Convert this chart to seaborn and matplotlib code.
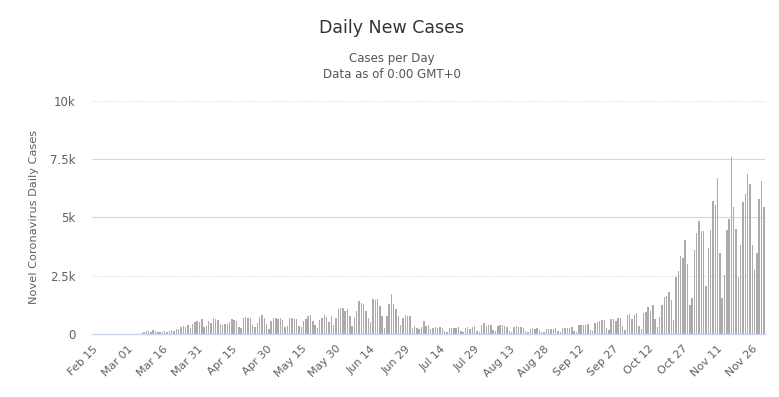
import pandas as pd
import matplotlib.pyplot as plt
import seaborn as sns
import numpy as np

# Valeurs (cas par jour), du 15 fév. au 1er déc. 2020
feb_mar = [0, 0, 0, 0, 0, 0, 0, 0, 0, 0, 1, 0, 2, 1, 3, 5, 7, 4, 10, 12,
           15, 20, 60, 140, 110, 90, 150, 120, 60, 100,
           100, 130, 90, 140, 160, 120, 230, 210, 300, 340,
           280, 360, 240, 430, 500, 560, 520, 620, 300, 350]
apr_may = [560, 460, 680, 650, 600, 430, 380, 440, 420, 530,
           620, 600, 560, 300, 250, 700, 720, 680, 700, 370,
           300, 450, 720, 790, 700, 430, 220, 560, 690, 680,
           650, 690, 600, 280, 350, 680, 700, 650, 620, 330,
           300, 550, 640, 760, 800, 560, 380, 250, 600, 700,
           790, 720, 500, 760, 400, 690, 1050, 1100, 1120, 1000]
jun_jul = [1050, 760, 330, 700, 980, 1410, 1340, 1270, 980, 690,
           500, 1480, 1460, 1480, 1200, 760, 260, 760, 1270, 1700,
           1270, 1060, 760, 400, 690, 790, 760, 760, 260, 330,
           260, 190, 300, 550, 330, 400, 190, 260, 290, 260]
summer = [280, 240, 120, 90, 250, 270, 240,
          260, 280, 120, 90, 250, 280, 230,
          290, 320, 130, 100, 380, 450, 340,
          360, 400, 150, 110, 330, 360, 400,
          340, 300, 130, 100, 280, 330, 290,
          300, 250, 110, 90, 200, 240, 230,
          260, 170]
autumn = [100, 70, 200, 210, 190, 230, 240,
          110, 80, 250, 270, 240, 260, 280,
          130, 100, 360, 400, 380, 360, 410,
          160, 120, 480, 500, 560, 580, 600,
          260, 180, 630, 650, 560, 670, 700,
          330, 180, 800, 840, 620, 820, 880,
          350, 200, 900, 920, 1160, 1000, 1230,
          650, 290, 720, 1230, 1600, 1620, 1810,
          1450, 580]
second_wave = [2420, 2680, 3330, 3250, 4030, 3010, 1230, 1520,
               3580, 4350, 4830, 4430, 4420, 2070, 3670, 4460,
               5700, 5550, 6700, 3480, 1550, 2510, 4460, 4930,
               7610, 5430, 4490, 2420, 3830, 5650, 6010, 6880,
               6450, 3800, 2720, 3450, 5800, 6550, 5430]

cases = feb_mar + apr_may + jun_jul + summer + autumn + second_wave
dates = pd.date_range("2020-02-15", periods=len(cases), freq="D")
df = pd.DataFrame({"date": dates.strftime("%b %d"), "cases": cases})

y_ticks = [0, 2500, 5000, 7500, 10000]
y_labels = ["0", "2.5k", "5k", "7.5k", "10k"]

sns.set_style("white")
plt.rcParams['font.family'] = ['DejaVu Sans']

fig = plt.figure(figsize=(7.79, 3.97), dpi=100)
ax = fig.add_axes([0.118, 0.159, 0.864, 0.587])

sns.barplot(data=df, x="date", y="cases", color="#ababab", width=0.62,
            saturation=1, linewidth=0, ax=ax)

ax.set_xlim(-0.5, len(cases) - 0.5)
ax.set_ylim(0, 10000)

# lignes de grille (pointillées en haut et à 2.5k, pleines à 5k et 7.5k)
for v, ls in [(10000, ':'), (7500, '-'), (5000, '-'), (2500, ':')]:
    ax.axhline(v, color='#d8d8d8', lw=0.8, ls=ls, zorder=0)

ax.set_yticks(y_ticks)
ax.set_yticklabels(y_labels, color='#606060', fontsize=8.5)
pos = list(range(0, len(cases), 15))
ax.set_xticks(pos)
ax.set_xticklabels(df["date"].iloc[pos], rotation=45, ha='right',
                   rotation_mode='anchor', color='#606060', fontsize=8)
ax.tick_params(axis='both', length=0, pad=7)
ax.tick_params(axis='y', pad=12)

for s in ['top', 'right', 'left']:
    ax.spines[s].set_visible(False)
ax.spines['bottom'].set_color('#ccd6eb')
ax.spines['bottom'].set_linewidth(1)

ax.set_xlabel("")
ax.set_ylabel("Novel Coronavirus Daily Cases", color='#606060', fontsize=8.2, labelpad=8)

fig.text(0.503, 0.93, "Daily New Cases", ha='center', va='center', fontsize=12.5, color='#333333')
fig.text(0.503, 0.853, "Cases per Day", ha='center', va='center', fontsize=8.5, color='#555555')
fig.text(0.503, 0.813, "Data as of 0:00 GMT+0", ha='center', va='center', fontsize=8.5, color='#555555')

fig.savefig("out.png", dpi=100)
